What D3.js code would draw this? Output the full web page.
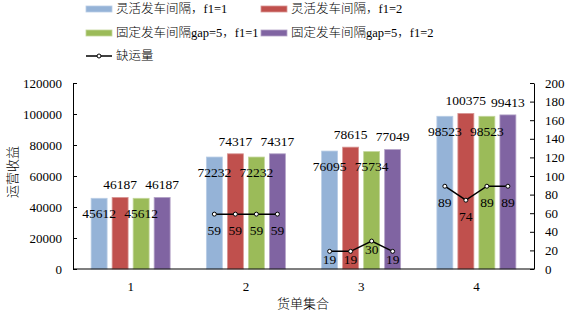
<!DOCTYPE html>
<html>
<head>
<meta charset="utf-8">
<script src="https://cdn.jsdelivr.net/npm/d3@7"></script>
<style>
  body { margin: 0; background: #fff; }
  svg text { font-family: "Liberation Serif", "Noto Sans CJK SC", serif; fill: #000; }
  svg text.cjk { font-weight: 300; }
</style>
</head>
<body>
<svg width="567" height="314"></svg>
<script>
const categories = ['1', '2', '3', '4'];
const seriesNames = ['灵活发车间隔，f1=1', '灵活发车间隔，f1=2', '固定发车间隔gap=5，f1=1', '固定发车间隔gap=5，f1=2'];
const revenue = [
  [45612, 72232, 76095, 98523],
  [46187, 74317, 78615, 100375],
  [45612, 72232, 75734, 98523],
  [46187, 74317, 77049, 99413]
];
// 缺运量, group 1 has no line
const shortage = [
  [null, 59, 19, 89],
  [null, 59, 19, 74],
  [null, 59, 30, 89],
  [null, 59, 19, 89]
];
const leftTicks = [0, 20000, 40000, 60000, 80000, 100000, 120000];
const rightTicks = [0, 20, 40, 60, 80, 100, 120, 140, 160, 180, 200];
const colors = ['#95b3d7', '#c0504d', '#9bbb59', '#8064a2'];
const strokes = ['#b9cde5', '#d99694', '#c3d69b', '#b3a2c7'];

const svg = d3.select('svg');
const [plotL, plotR, plotT, plotB] = [73, 534, 83, 269];

const x0 = d3.scaleBand().domain(categories).range([plotL, plotR]);
const groupW = 79;
const x1 = d3.scaleBand().domain(d3.range(4)).range([0, groupW]).paddingInner(0.24);
const yL = d3.scaleLinear().domain([0, 120000]).range([plotB, plotT]);
const yR = d3.scaleLinear().domain([0, 200]).range([plotB, plotT]);
const gx = (c, i) => x0(c) + (x0.bandwidth() - groupW) / 2 + x1(i);

// axes
svg.append('g')
  .attr('transform', `translate(${plotL},0)`)
  .call(d3.axisRight(yL).tickValues(leftTicks).tickSize(4).tickSizeOuter(0).tickFormat(''))
  .call(g => g.select('.domain').attr('stroke', '#000'));
svg.append('g').selectAll('text').data(leftTicks).join('text')
  .attr('x', 62).attr('y', d => yL(d)).attr('dy', '0.35em')
  .attr('text-anchor', 'end').attr('font-size', 13).text(d => d);

svg.append('g')
  .attr('transform', `translate(${plotR},0)`)
  .call(d3.axisLeft(yR).tickValues(rightTicks).tickSize(4).tickSizeOuter(0).tickFormat(''))
  .call(g => g.select('.domain').attr('stroke', '#000'));
svg.append('g').selectAll('text').data(rightTicks).join('text')
  .attr('x', 545).attr('y', d => yR(d)).attr('dy', '0.35em')
  .attr('font-size', 13).text(d => d);

// bars
revenue.forEach((vals, i) => {
  svg.append('g').selectAll('rect').data(vals).join('rect')
    .attr('x', (d, j) => gx(categories[j], i))
    .attr('y', d => yL(d))
    .attr('width', x1.bandwidth())
    .attr('height', d => plotB - yL(d))
    .attr('fill', colors[i])
    .attr('stroke', strokes[i])
    .attr('stroke-width', 0.8);
});

svg.append('line')
  .attr('x1', plotL).attr('x2', plotR).attr('y1', plotB).attr('y2', plotB)
  .attr('stroke', '#000').attr('stroke-width', 1.2);

// bar labels: blue/green inside, red/purple above
revenue.forEach((vals, i) => {
  svg.append('g').selectAll('text').data(vals).join('text')
    .attr('x', (d, j) => gx(categories[j], i) + x1.bandwidth() / 2)
    .attr('y', d => yL(d) + (i % 2 === 0 ? 15 : -13))
    .attr('dy', '0.35em')
    .attr('text-anchor', 'middle')
    .attr('font-size', 13.5)
    .text(d => d);
});

// shortage line per group
categories.forEach((c, j) => {
  const pts = shortage.map((s, i) => ({ x: gx(c, i) + x1.bandwidth() / 2, v: s[j] }))
    .filter(p => p.v !== null);
  if (!pts.length) return;
  svg.append('path')
    .attr('d', d3.line().x(p => p.x).y(p => yR(p.v))(pts))
    .attr('fill', 'none').attr('stroke', '#000').attr('stroke-width', 1.5);
  svg.append('g').selectAll('circle').data(pts).join('circle')
    .attr('cx', p => p.x).attr('cy', p => yR(p.v)).attr('r', 2)
    .attr('fill', '#fff').attr('stroke', '#000').attr('stroke-width', 1);
  svg.append('g').selectAll('text').data(pts).join('text')
    .attr('x', p => p.x)
    .attr('y', p => yR(p.v) + (yR(p.v) > 235 ? 8 : 16))
    .attr('dy', '0.35em').attr('text-anchor', 'middle')
    .attr('font-size', 13.5).text(p => p.v);
});

// x tick labels
svg.append('g').selectAll('text').data(categories).join('text')
  .attr('x', d => x0(d) + x0.bandwidth() / 2).attr('y', 286).attr('dy', '0.35em')
  .attr('text-anchor', 'middle').attr('font-size', 13).text(d => d);

// axis titles
svg.append('text').attr('class', 'cjk').attr('x', 303).attr('y', 303).attr('dy', '0.35em')
  .attr('text-anchor', 'middle').attr('font-size', 13).text('货单集合');
svg.append('text').attr('class', 'cjk').attr('transform', 'translate(12,172) rotate(-90)').attr('dy', '0.35em')
  .attr('text-anchor', 'middle').attr('font-size', 13).text('运营收益');

// legend
const legend = svg.append('g');
seriesNames.forEach((name, i) => {
  const lx = i % 2 === 0 ? 86 : 261;
  const ly = i < 2 ? 9 : 33;
  legend.append('rect').attr('x', lx).attr('y', ly - 3).attr('width', 26).attr('height', 6)
    .attr('fill', colors[i]).attr('stroke', strokes[i]).attr('stroke-width', 0.8);
  legend.append('text').attr('class', 'cjk').attr('x', lx + 30).attr('y', ly).attr('dy', '0.35em')
    .attr('font-size', 12.5).text(name);
});
legend.append('line').attr('x1', 86).attr('x2', 112).attr('y1', 56).attr('y2', 56)
  .attr('stroke', '#000').attr('stroke-width', 1.5);
legend.append('circle').attr('cx', 99).attr('cy', 56).attr('r', 2)
  .attr('fill', '#fff').attr('stroke', '#000');
legend.append('text').attr('class', 'cjk').attr('x', 116).attr('y', 56).attr('dy', '0.35em')
  .attr('font-size', 12.5).text('缺运量');
</script>
</body>
</html>
